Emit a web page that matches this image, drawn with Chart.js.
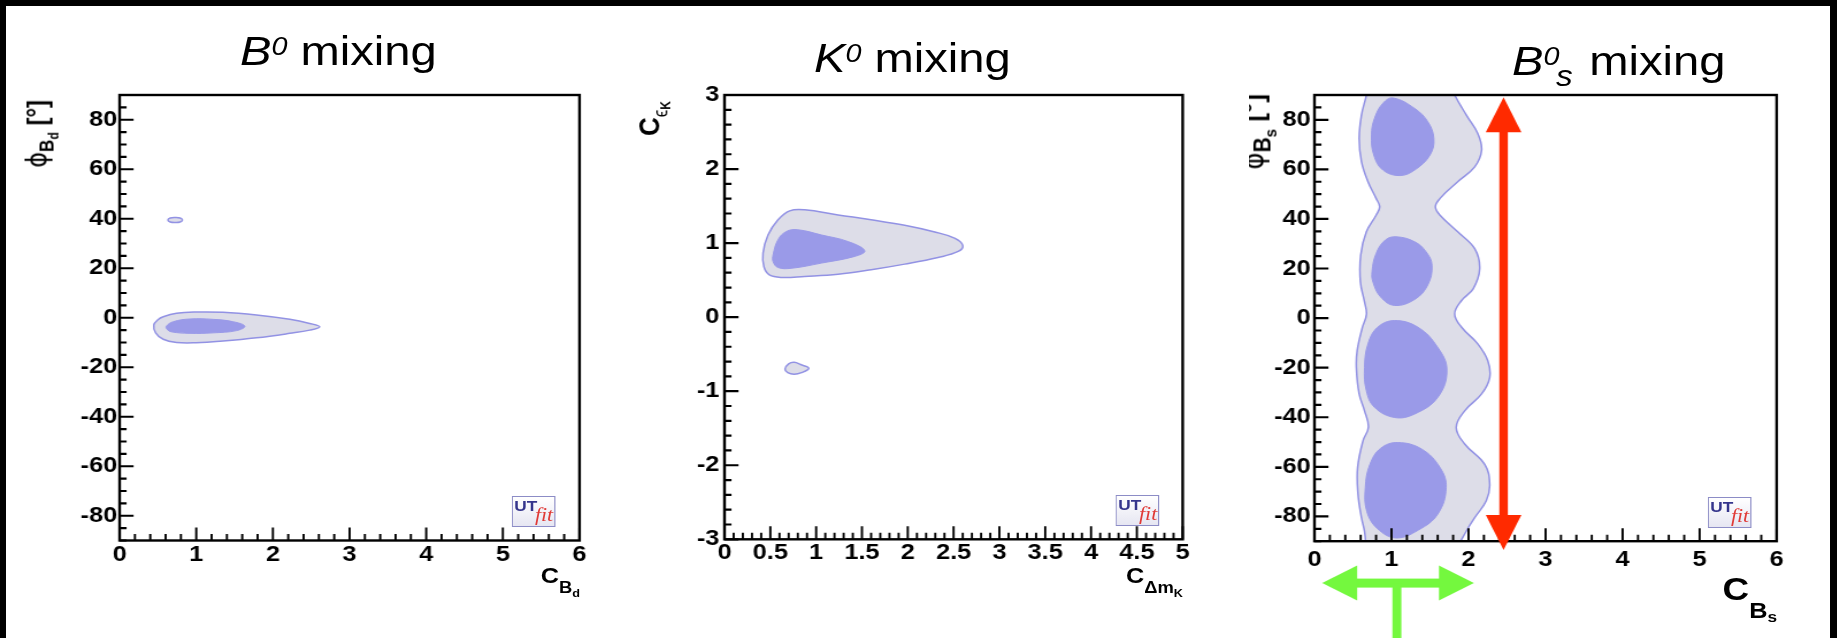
<!DOCTYPE html>
<html>
<head>
<meta charset="utf-8">
<title>NP mixing constraints</title>
<script src="https://cdn.jsdelivr.net/npm/chart.js@4.4.1/dist/chart.umd.min.js"></script>
<style>
  html, body { margin: 0; padding: 0; }
  body { width: 1837px; height: 638px; background: #000; position: relative; overflow: hidden; }
  #paper { position: absolute; left: 6px; top: 6px; width: 1824px; height: 640px; background: #fff; }
  /* the whole sheet is drawn narrow and widened, like the printed figure */
  #wide { position: absolute; left: 0; top: 0; width: 1598px; height: 638px;
          transform: scaleX(1.15); transform-origin: 0 0; }
  .plot { position: absolute; }
  .ttl { position: absolute; font: 41px/41px "Liberation Sans", Arial, sans-serif; white-space: nowrap; color: #000; }
  .ttl .up { font-size: 25px; font-style: italic; position: relative; top: -10px; }
  .ttl .dn { font-size: 29px; font-style: italic; position: relative; top: 11px; margin-left: -3px; margin-right: 3px; }
  .ax { position: absolute; font-family: "Liberation Sans", Arial, sans-serif; font-weight: bold;
        white-space: nowrap; line-height: 1; color: #000; }
  .rot { transform-origin: 100% 0; transform: rotate(-90deg); }
  .phi { font-family: "DejaVu Sans", sans-serif; font-weight: normal; }
  .logo { position: absolute; width: 38px; height: 31px; box-sizing: border-box;
          border: 1.5px solid #8c8cc6; background: linear-gradient(#ffffff, #e6e6f2); }
  .logo .ut { position: absolute; left: 1px; top: 1px; font: bold 15px/15px "Liberation Sans", Arial, sans-serif; color: #35358c; }
  .logo .fit { position: absolute; left: 19px; top: 8px; font: italic 19px/19px "Liberation Serif", serif; color: #e03a36; }
</style>
</head>
<body>
<div id="paper"></div>
<div id="wide">
  <div class="plot" id="boxBd"><canvas id="chartBd"></canvas></div>
  <div class="plot" id="boxK"><canvas id="chartK"></canvas></div>
  <div class="plot" id="boxBs"><canvas id="chartBs"></canvas></div>

  <div class="ttl" id="titleBd"><i>B</i><span class="up">0</span> mixing</div>
  <div class="ttl" id="titleK"><i>K</i><span class="up">0</span> mixing</div>
  <div class="ttl" id="titleBs"><i>B</i><span class="up">0</span><span class="dn">s</span> mixing</div>

  <div class="ax rot" id="yTitleBd" style="font-size:24px"><span class="phi">ϕ</span><span style="font-size:17px;vertical-align:-6px">B</span><span style="font-size:12px;vertical-align:-10px">d</span> [°]</div>
  <div class="ax rot" id="yTitleK" style="font-size:26px">C<span style="font-size:17px;vertical-align:-7px;font-weight:normal">ϵ</span><span style="font-size:12px;vertical-align:-10px">K</span></div>
  <div class="ax rot" id="yTitleBs" style="font-size:26px"><span class="phi">ϕ</span><span style="font-size:21px;vertical-align:-6px">B</span><span style="font-size:15px;vertical-align:-11px">s</span> [°]</div>

  <div class="ax" id="xTitleBd" style="font-size:22px">C<span style="font-size:16px;vertical-align:-10px">B</span><span style="font-size:11px;vertical-align:-14px">d</span></div>
  <div class="ax" id="xTitleK" style="font-size:22px">C<span style="font-size:16px;vertical-align:-10px">Δm</span><span style="font-size:11px;vertical-align:-14px">K</span></div>
  <div class="ax" id="xTitleBs" style="font-size:32px">C<span style="font-size:22px;vertical-align:-18px">B</span><span style="font-size:15px;vertical-align:-22px">s</span></div>

  <div class="logo" id="logoBd"><span class="ut">UT</span><span class="fit">fit</span></div>
  <div class="logo" id="logoK"><span class="ut">UT</span><span class="fit">fit</span></div>
  <div class="logo" id="logoBs"><span class="ut">UT</span><span class="fit">fit</span></div>
</div>

<script>
const SX = 1.15;      // horizontal widening of the sheet
const WIDE = 1598;    // sheet width before widening

// ---- B0 mixing: phi_Bd vs C_Bd ----
const bdXTicks = [0, 1, 2, 3, 4, 5, 6];
const bdYTicks = [-80, -60, -40, -20, 0, 20, 40, 60, 80];
const bdOuter = [[0.446, -2.9], [0.50, -0.8], [0.568, 0.4], [0.742, 1.8], [1.0, 2.3], [1.35, 2.2],
  [1.786, 1.1], [2.22, -0.65], [2.48, -2.3], [2.61, -3.6], [2.48, -5.0], [2.22, -6.3], [1.786, -8.1],
  [1.35, -9.4], [1.0, -10.1], [0.742, -10.0], [0.568, -8.7], [0.47, -6.1]];
const bdInner = [[0.61, -3.4], [0.70, -1.6], [0.916, -0.5], [1.22, -0.65], [1.48, -1.6], [1.633, -3.4],
  [1.525, -5.2], [1.22, -6.1], [0.916, -6.3], [0.677, -5.7], [0.62, -4.7]];
const bdIsland = [[0.63, 39.5], [0.66, 40.3], [0.725, 40.5], [0.79, 40.3], [0.82, 39.5], [0.79, 38.7],
  [0.725, 38.5], [0.66, 38.7]];

// ---- K0 mixing: C_epsK vs C_DmK ----
const kXTicks = [0, 0.5, 1, 1.5, 2, 2.5, 3, 3.5, 4, 4.5, 5];
const kYTicks = [-3, -2, -1, 0, 1, 2, 3];
const kOuter = [[0.42, 0.865], [0.475, 1.11], [0.584, 1.315], [0.711, 1.436], [0.875, 1.45], [1.24, 1.38],
  [1.60, 1.315], [1.966, 1.24], [2.294, 1.15], [2.51, 1.067], [2.60, 0.97], [2.55, 0.887], [2.33, 0.806],
  [1.966, 0.716], [1.60, 0.64], [1.24, 0.58], [0.875, 0.55], [0.62, 0.536], [0.49, 0.57], [0.43, 0.68]];
const kInner = [[0.53, 0.84], [0.584, 1.045], [0.675, 1.157], [0.80, 1.18], [1.057, 1.11], [1.35, 1.02],
  [1.53, 0.896], [1.42, 0.82], [1.057, 0.73], [0.73, 0.66], [0.584, 0.67], [0.53, 0.75]];
const kIsland = [[0.66, -0.70], [0.70, -0.63], [0.76, -0.61], [0.83, -0.64], [0.92, -0.69], [0.84, -0.75],
  [0.76, -0.77], [0.69, -0.75]];

// ---- Bs0 mixing: phi_Bs vs C_Bs ----
const bsXTicks = [0, 1, 2, 3, 4, 5, 6];
const bsYTicks = [-80, -60, -40, -20, 0, 20, 40, 60, 80];
const bsOuter = [[0.75, 105], [0.70, 96], [0.674, 90], [0.61, 81.9], [0.58, 72.5], [0.61, 63.1], [0.695, 55],
  [0.80, 48.3], [0.847, 44.9], [0.80, 41.5], [0.674, 34.8], [0.60, 25.4], [0.596, 14.6], [0.65, 6.5],
  [0.675, 1.5], [0.62, -4], [0.555, -13], [0.544, -20], [0.58, -30.6], [0.65, -37.4], [0.70, -44],
  [0.63, -49.5], [0.56, -60.3], [0.565, -71], [0.61, -80.5], [0.65, -86], [0.69, -96], [0.80, -105],
  [1.70, -105], [1.80, -96], [1.97, -86], [2.08, -80.5], [2.23, -73.7], [2.275, -67], [2.21, -59],
  [1.95, -50.8], [1.84, -44.1], [1.95, -37.4], [2.17, -30.6], [2.275, -24], [2.25, -17.2], [2.12, -10.4],
  [1.91, -3.7], [1.82, 1.7], [1.91, 7.1], [2.06, 11.8], [2.145, 19.9], [2.08, 28], [1.86, 34.8],
  [1.63, 41.5], [1.57, 44.9], [1.63, 48.3], [1.86, 55], [2.08, 61], [2.17, 67.7], [2.12, 74.5],
  [1.97, 82], [1.82, 90], [1.74, 96], [1.60, 105]];
const bsBlobA = [[1.02, 88.8], [1.30, 84.6], [1.47, 79.3], [1.55, 72.5], [1.50, 65.8], [1.30, 59.7],
  [1.107, 57.5], [0.89, 59.7], [0.77, 65.8], [0.74, 73.9], [0.78, 80.6], [0.89, 86.7]];
const bsBlobB = [[1.06, 32.8], [1.30, 30.8], [1.45, 26.7], [1.526, 21.3], [1.47, 13.3], [1.30, 7.5],
  [1.04, 5.1], [0.86, 8.5], [0.76, 14.5], [0.747, 18.7], [0.80, 26], [0.92, 31.5]];
const bsBlobC = [[1.04, -1.0], [1.344, -3.7], [1.60, -11.8], [1.72, -21], [1.60, -32], [1.30, -38.7],
  [1.04, -40.1], [0.78, -36], [0.674, -29.3], [0.65, -19.9], [0.695, -10.4], [0.82, -3.7]];
const bsBlobD = [[1.08, -50.2], [1.39, -52.8], [1.63, -60.3], [1.71, -68.4], [1.60, -79.1], [1.35, -85.5],
  [1.06, -88.7], [0.82, -85], [0.68, -78], [0.66, -68.4], [0.72, -59], [0.86, -52.5]];

// arrows over the Bs panel, in its axis units
const redArrowX = 2.455;
const redArrowY = [89.1, -93.6];
const greenArrowX = [0.1, 2.07];
const greenArrowY = -106.9;
const greenStemX = 1.07;
const greenStemEndY = -150;

const OUTER_FILL = 'rgb(221,221,232)';
const OUTER_LINE = 'rgb(146,146,228)';
const INNER_FILL = 'rgb(154,154,232)';
const TICK_FONT = { family: '"Liberation Sans", Arial, sans-serif', size: 22, weight: 'bold' };

function contour(points, fillColor, lineColor, lineWidth) {
  return {
    data: points.map(([x, y]) => ({ x, y })),
    showLine: true,
    fill: 'shape',
    backgroundColor: fillColor,
    borderColor: lineColor,
    borderWidth: lineWidth,
    pointRadius: 0,
    tension: 0.4,
    spanGaps: true
  };
}

// every contour is a closed curve
const closeContours = {
  id: 'closeContours',
  afterDatasetUpdate(chart, args) {
    const line = args.meta.dataset;
    if (line) { line._loop = true; line._fullLoop = true; }
  }
};

function stepValues(min, max, step) {
  const out = [];
  const n = Math.round((max - min) / step);
  for (let i = 0; i <= n; i++) out.push(Math.round((min + i * step) * 1e6) / 1e6);
  return out;
}

// ROOT-like frame with ticks pointing into the pad
function frameTicks(c) {
  return {
    id: 'frameTicks',
    afterDatasetsDraw(chart) {
      const { ctx, chartArea: a } = chart;
      const xs = chart.scales.x, ys = chart.scales.y;
      ctx.save();
      ctx.strokeStyle = '#000';
      ctx.lineWidth = 1.9;
      ctx.beginPath();
      for (const v of stepValues(xs.min, xs.max, c.xMinor)) {
        const px = xs.getPixelForValue(v);
        const len = c.xTicks.some(t => Math.abs(t - v) < 1e-6) ? 13 : 6.5;
        ctx.moveTo(px, a.bottom);
        ctx.lineTo(px, a.bottom - len);
      }
      ctx.stroke();
      ctx.lineWidth = 2.2;
      ctx.beginPath();
      for (const v of stepValues(ys.min, ys.max, c.yMinor)) {
        const py = ys.getPixelForValue(v);
        const len = (c.yTicks.some(t => Math.abs(t - v) < 1e-6) ? 14 : 7) / SX;
        ctx.moveTo(a.left, py);
        ctx.lineTo(a.left + len, py);
      }
      ctx.stroke();
      ctx.lineWidth = 2.4;
      ctx.strokeRect(a.left, a.top, a.right - a.left, a.bottom - a.top);
      ctx.restore();
    }
  };
}

const arrows = {
  id: 'arrows',
  afterDraw(chart) {
    const { ctx } = chart;
    const xs = chart.scales.x, ys = chart.scales.y;
    ctx.save();
    // red double arrow along phi
    const rx = xs.getPixelForValue(redArrowX);
    const rTop = ys.getPixelForValue(redArrowY[0]);
    const rBot = ys.getPixelForValue(redArrowY[1]);
    const head = 35, half = 17.8 / SX, shaft = 8.5 / SX;
    ctx.fillStyle = '#ff2a00';
    ctx.fillRect(rx - shaft / 2, rTop + head - 1, shaft, rBot - rTop - 2 * head + 2);
    ctx.beginPath();
    ctx.moveTo(rx, rTop); ctx.lineTo(rx - half, rTop + head); ctx.lineTo(rx + half, rTop + head);
    ctx.closePath(); ctx.fill();
    ctx.beginPath();
    ctx.moveTo(rx, rBot); ctx.lineTo(rx - half, rBot - head); ctx.lineTo(rx + half, rBot - head);
    ctx.closePath(); ctx.fill();

    // green double arrow along C with its stem
    const gy = ys.getPixelForValue(greenArrowY);
    const gx0 = xs.getPixelForValue(greenArrowX[0]);
    const gx1 = xs.getPixelForValue(greenArrowX[1]);
    const gHead = 35 / SX, gHalf = 17.5, gShaft = 9;
    ctx.fillStyle = '#74f83e';
    ctx.fillRect(gx0 + gHead - 1, gy - gShaft / 2, gx1 - gx0 - 2 * gHead + 2, gShaft);
    ctx.beginPath();
    ctx.moveTo(gx0, gy); ctx.lineTo(gx0 + gHead, gy - gHalf); ctx.lineTo(gx0 + gHead, gy + gHalf);
    ctx.closePath(); ctx.fill();
    ctx.beginPath();
    ctx.moveTo(gx1, gy); ctx.lineTo(gx1 - gHead, gy - gHalf); ctx.lineTo(gx1 - gHead, gy + gHalf);
    ctx.closePath(); ctx.fill();
    const sx = xs.getPixelForValue(greenStemX);
    const sEnd = ys.getPixelForValue(greenStemEndY);
    ctx.fillRect(sx - 4.5 / SX, gy, 9 / SX, sEnd - gy);
    ctx.restore();
  }
};

const Y_BAND = 60, TOP_BAND = 20, X_BAND = 100;

function makePanel(boxId, canvasId, frame, cfg) {
  const holder = document.getElementById(boxId);
  const L = frame.left / SX, R = frame.right / SX;
  const plotW = R - L, plotH = frame.bottom - frame.top;
  const cw = Math.ceil(plotW + Y_BAND + 20);
  const ch = Math.ceil(plotH + TOP_BAND + X_BAND);
  holder.style.left = (L - Y_BAND) + 'px';
  holder.style.top = (frame.top - TOP_BAND) + 'px';
  holder.style.width = cw + 'px';
  holder.style.height = ch + 'px';
  const padRight = cw - Y_BAND - plotW;
  const xBand = ch - TOP_BAND - plotH;

  return new Chart(document.getElementById(canvasId), {
    type: 'scatter',
    data: { datasets: cfg.datasets },
    options: {
      responsive: true,
      maintainAspectRatio: false,
      animation: false,
      events: [],
      layout: { padding: { left: 0, top: TOP_BAND, right: padRight, bottom: 0 } },
      elements: { line: { capBezierPoints: false } },
      plugins: { legend: { display: false }, tooltip: { enabled: false } },
      scales: {
        x: {
          type: 'linear', min: cfg.xMin, max: cfg.xMax,
          grid: { display: false, drawTicks: false }, border: { display: false },
          afterBuildTicks: s => { s.ticks = cfg.xTicks.map(v => ({ value: v })); },
          afterFit: s => { s.height = xBand; },
          ticks: { autoSkip: false, maxRotation: 0, minRotation: 0, padding: cfg.xPad,
                   font: TICK_FONT, color: '#000', callback: v => String(v) }
        },
        y: {
          type: 'linear', min: cfg.yMin, max: cfg.yMax,
          grid: { display: false, drawTicks: false }, border: { display: false },
          afterBuildTicks: s => { s.ticks = cfg.yTicks.map(v => ({ value: v })); },
          afterFit: s => { s.width = Y_BAND; },
          ticks: { autoSkip: false, padding: cfg.yPad, font: TICK_FONT, color: '#000',
                   callback: v => String(v) }
        }
      }
    },
    plugins: [closeContours, frameTicks(cfg)].concat(cfg.extra || [])
  });
}

const frames = {
  bd: { left: 119.8, right: 579.7, top: 94.8, bottom: 540.3 },
  k:  { left: 724.8, right: 1183.0, top: 95.2, bottom: 539.5 },
  bs: { left: 1314.8, right: 1777.0, top: 94.8, bottom: 541.0 }
};

makePanel('boxBd', 'chartBd', frames.bd, {
  xMin: 0, xMax: 6, yMin: -90, yMax: 90, xTicks: bdXTicks, yTicks: bdYTicks,
  xMinor: 0.2, yMinor: 5, xPad: 1.5, yPad: 2.1,
  datasets: [
    contour(bdInner, INNER_FILL, INNER_FILL, 1),
    contour(bdOuter, OUTER_FILL, OUTER_LINE, 1.5),
    contour(bdIsland, OUTER_FILL, OUTER_LINE, 1.5)
  ]
});

makePanel('boxK', 'chartK', frames.k, {
  xMin: 0, xMax: 5, yMin: -3, yMax: 3, xTicks: kXTicks, yTicks: kYTicks,
  xMinor: 0.1, yMinor: 0.2, xPad: 0.5, yPad: 4.5,
  datasets: [
    contour(kInner, INNER_FILL, INNER_FILL, 1),
    contour(kOuter, OUTER_FILL, OUTER_LINE, 1.5),
    contour(kIsland, OUTER_FILL, OUTER_LINE, 1.5)
  ]
});

makePanel('boxBs', 'chartBs', frames.bs, {
  xMin: 0, xMax: 6, yMin: -90, yMax: 90, xTicks: bsXTicks, yTicks: bsYTicks,
  xMinor: 0.2, yMinor: 5, xPad: 5.5, yPad: 3.3,
  datasets: [
    contour(bsBlobA, INNER_FILL, INNER_FILL, 1),
    contour(bsBlobB, INNER_FILL, INNER_FILL, 1),
    contour(bsBlobC, INNER_FILL, INNER_FILL, 1),
    contour(bsBlobD, INNER_FILL, INNER_FILL, 1),
    contour(bsOuter, OUTER_FILL, OUTER_LINE, 1.5)
  ],
  extra: [arrows]
});

// text placed in page pixels
function at(id, x, y) {
  const el = document.getElementById(id);
  el.style.left = (x / SX) + 'px';
  el.style.top = y + 'px';
}
function atRight(id, xRight, y) {
  const el = document.getElementById(id);
  el.style.right = (WIDE - xRight / SX) + 'px';
  el.style.top = y + 'px';
}
// rotated titles: x is the side where the letters' tops are, y the upper end
function atRot(id, x, y) {
  const el = document.getElementById(id);
  el.style.right = (WIDE - x / SX) + 'px';
  el.style.top = y + 'px';
}

at('titleBd', 240, 30.5);
at('titleK', 814, 37.5);
at('titleBs', 1512, 41);

atRot('yTitleBd', 24, 100);
atRot('yTitleK', 634, 101);
atRot('yTitleBs', 1238, 94);
document.getElementById('yTitleBs').style.clipPath = 'inset(' + (11 / SX) + 'px 0 0 0)';

atRight('xTitleBd', 580, 564.6);
atRight('xTitleK', 1183, 564.6);
atRight('xTitleBs', 1777, 572.8);

at('logoBd', 512, 495.5);
at('logoK', 1116, 494.5);
at('logoBs', 1708, 497);
</script>
</body>
</html>
